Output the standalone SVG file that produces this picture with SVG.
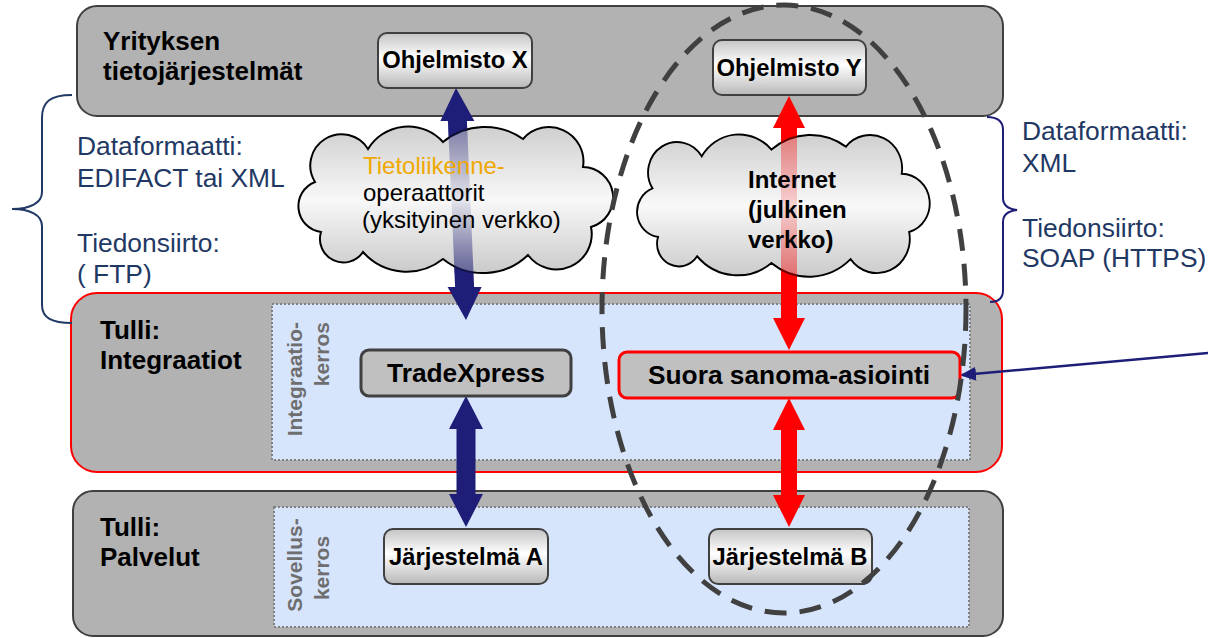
<svg xmlns="http://www.w3.org/2000/svg" width="1208" height="638" viewBox="0 0 1208 638">
<style>
.band{fill:#b2b2b2;stroke:#404040;stroke-width:2}
.inner{fill:#d6e4fc;stroke:#808080;stroke-width:2;stroke-dasharray:2 2}
.title{font-family:"Liberation Sans",Arial,sans-serif;font-weight:bold;font-size:26px;fill:#000}
.lbl{font-family:"Liberation Sans",Arial,sans-serif;font-weight:bold;font-size:23.8px;fill:#000;text-anchor:middle}
.lbl2{font-family:"Liberation Sans",Arial,sans-serif;font-weight:bold;font-size:26.3px;fill:#000;text-anchor:middle}
.side{font-family:"Liberation Sans",Arial,sans-serif;font-size:26.4px;fill:#1f3864}
.layer{font-family:"Liberation Sans",Arial,sans-serif;font-weight:bold;font-size:21px;fill:#6e6e6e}
.cl{font-family:"Liberation Sans",Arial,sans-serif;font-size:24px;fill:#000}
.clb{font-family:"Liberation Sans",Arial,sans-serif;font-size:24px;font-weight:bold;fill:#000}
.gnode{fill:url(#ng);stroke:#404040;stroke-width:2}
.cloud{fill:url(#cg);stroke:#000;stroke-width:2}
.navy{fill:#1e1e78}
.red{fill:#ff0000}
.brace{fill:none;stroke-width:2}
</style>
<defs>
<linearGradient id="ng" x1="0" y1="0" x2="0" y2="1">
<stop offset="0" stop-color="#c4c4c4"/><stop offset="0.45" stop-color="#ffffff"/><stop offset="1" stop-color="#b8b8b8"/>
</linearGradient>
<linearGradient id="cg" x1="0" y1="0" x2="0" y2="1">
<stop offset="0" stop-color="#cfcfcf"/><stop offset="0.5" stop-color="#f8f8f8"/><stop offset="1" stop-color="#cacaca"/>
</linearGradient>
<linearGradient id="navyFade" x1="0" y1="0" x2="0" y2="1">
<stop offset="0" stop-color="#1e1e78" stop-opacity="0.45"/><stop offset="0.5" stop-color="#1e1e78" stop-opacity="0.08"/><stop offset="1" stop-color="#1e1e78" stop-opacity="0.6"/>
</linearGradient>
<linearGradient id="redFade" x1="0" y1="0" x2="0" y2="1">
<stop offset="0" stop-color="#ff0000" stop-opacity="0.4"/><stop offset="0.5" stop-color="#ff0000" stop-opacity="0.15"/><stop offset="1" stop-color="#ff0000" stop-opacity="0.45"/>
</linearGradient>
<path id="cloudShape" d="M28,105 A26,26 0 0 1 22,55 A31,31 0 0 1 75,22 A46.9,46.9 0 0 1 150,15 A66,66 0 0 1 230,12 A34.4,34.4 0 0 1 290,40 A30.6,30.6 0 0 1 298,100 A35.3,35.3 0 0 1 235,128 A64.4,64.4 0 0 1 150,132 A58.4,58.4 0 0 1 70,125 A23.5,23.5 0 0 1 28,105 Z"/>
<marker id="ah" markerUnits="userSpaceOnUse" markerWidth="16" markerHeight="14" refX="14" refY="7" orient="auto">
<path d="M0,0 L16,7 L0,14 Z" fill="#1e1e78"/>
</marker>
</defs>

<!-- bands -->
<g id="band-yritys">
<rect class="band" x="77" y="6" width="926" height="110" rx="20"/>
<text class="title" x="103" y="50">Yrityksen</text>
<text class="title" x="103" y="80">tietojärjestelmät</text>
</g>
<g id="band-integraatiot">
<rect class="band" x="71" y="293" width="931" height="179" rx="26" style="stroke:#ff0000"/>
<rect class="inner" x="272" y="304" width="698" height="156"/>
<text class="title" x="100" y="339">Tulli:</text>
<text class="title" x="100" y="369">Integraatiot</text>
<text class="layer" transform="translate(302,322) rotate(-90)" text-anchor="end">Integraatio-</text>
<text class="layer" transform="translate(329,322) rotate(-90)" text-anchor="end">kerros</text>
</g>
<g id="band-palvelut">
<rect class="band" x="73" y="491" width="930" height="145" rx="20"/>
<rect class="inner" x="274" y="507" width="695" height="120"/>
<text class="title" x="100" y="536">Tulli:</text>
<text class="title" x="100" y="566">Palvelut</text>
<text class="layer" transform="translate(302,565) rotate(-90)" text-anchor="middle">Sovellus-</text>
<text class="layer" transform="translate(329,568) rotate(-90)" text-anchor="middle">kerros</text>
</g>

<!-- side notes -->
<g id="note-left">
<path class="brace" stroke="#1f3864" d="M72,95 C50,95 42,102 42,118 L42,192 C42,203 30,209 12,209 C30,209 42,215 42,226 L42,305 C42,318 52,323 72,323"/>
<text class="side" x="77" y="155">Dataformaatti:</text>
<text class="side" x="77" y="187">EDIFACT tai XML</text>
<text class="side" x="77" y="252">Tiedonsiirto:</text>
<text class="side" x="77" y="283">( FTP)</text>
</g>
<g id="note-right">
<path class="brace" stroke="#1e1e78" d="M987,117 C998,117 1003,121 1003,130 L1003,198 C1003,205 1008,209 1017,210 C1008,211 1003,215 1003,222 L1003,290 C1003,298 999,302 990,302"/>
<text class="side" x="1022" y="140">Dataformaatti:</text>
<text class="side" x="1022" y="172">XML</text>
<text class="side" x="1022" y="237">Tiedonsiirto:</text>
<text class="side" x="1022" y="267">SOAP (HTTPS)</text>
</g>

<!-- connectors -->
<g id="connectors">
<polygon class="navy" points="456,88 474.4,121 466.9,121 474.1,287 481.6,287 466,320 447.6,287 455.1,287 447.9,121 440.4,121"/>
<polygon class="navy" points="466,396 483,429 475.5,429 475.5,494 483,494 466,527 449,494 456.5,494 456.5,429 449,429"/>
<polygon class="red" points="789,96 805,128 797,128 797,318 805,318 789,350 773,318 781,318 781,128 773,128"/>
<polygon class="red" points="789,398 805,430 797,430 797,495 805,495 789,527 773,495 781,495 781,430 773,430"/>
<line x1="1208" y1="353" x2="962" y2="375" stroke="#1e1e78" stroke-width="2.5" marker-end="url(#ah)"/>
</g>

<!-- clouds -->
<g id="cloud-operaattorit">
<use href="#cloudShape" class="cloud" transform="translate(293,127)"/>
<polygon points="448.2,127 467.2,127 473.5,273 454.5,273" fill="url(#navyFade)"/>
<text class="cl" x="363" y="174" style="fill:#f0a800">Tietoliikenne-</text>
<text class="cl" x="363" y="201">operaattorit</text>
<text class="cl" x="362" y="228">(yksityinen verkko)</text>
</g>
<g id="cloud-internet">
<use href="#cloudShape" class="cloud" transform="translate(632,135) scale(0.93,0.97)"/>
<rect x="781" y="135" width="16" height="142" fill="url(#redFade)"/>
<text class="clb" x="748" y="188">Internet</text>
<text class="clb" x="748" y="218">(julkinen</text>
<text class="clb" x="748" y="248">verkko)</text>
</g>

<!-- nodes -->
<g id="node-ohjelmisto-x">
<rect class="gnode" x="378" y="33" width="154" height="55" rx="9"/>
<text class="lbl" x="455" y="68">Ohjelmisto X</text>
</g>
<g id="node-ohjelmisto-y">
<rect class="gnode" x="713" y="40" width="153" height="55" rx="9"/>
<text class="lbl" x="789" y="76">Ohjelmisto Y</text>
</g>
<g id="node-tradexpress">
<rect x="361" y="350" width="210" height="46" rx="8" fill="#c0c0c0" stroke="#404040" stroke-width="3"/>
<text class="lbl2" x="466" y="382">TradeXpress</text>
</g>
<g id="node-suora">
<rect x="619" y="352" width="341" height="46" rx="8" fill="#c0c0c0" stroke="#ff0000" stroke-width="3"/>
<text class="lbl2" x="789" y="384">Suora sanoma-asiointi</text>
</g>
<g id="node-jarjestelma-a">
<rect class="gnode" x="384" y="529" width="164" height="55" rx="9"/>
<text class="lbl" x="466" y="565">Järjestelmä A</text>
</g>
<g id="node-jarjestelma-b">
<rect class="gnode" x="709" y="529" width="163" height="55" rx="9"/>
<text class="lbl" x="790" y="565">Järjestelmä B</text>
</g>

<!-- dashed scope ellipse -->
<g id="scope-ellipse">
<ellipse cx="784" cy="309" rx="182" ry="304" fill="none" stroke="#404040" stroke-width="5" stroke-dasharray="22 13"/>
</g>
</svg>
